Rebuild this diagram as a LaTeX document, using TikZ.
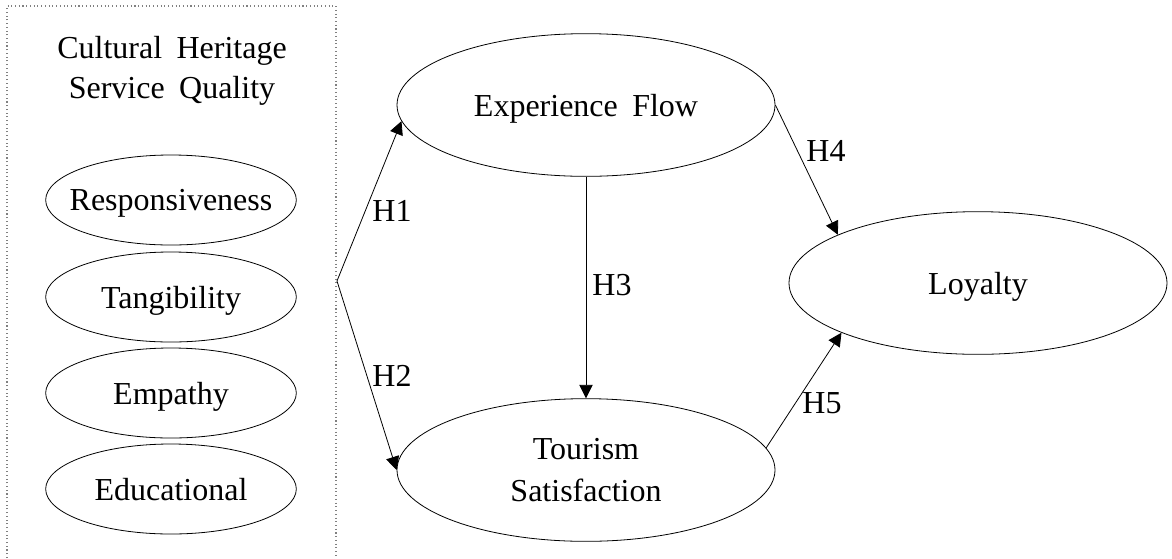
\documentclass[tikz,border=0pt]{standalone}
\usepackage{fontspec}
\setmainfont{Liberation Serif}[WordSpace=1.8]
\usetikzlibrary{arrows.meta,shapes.geometric}
\begin{document}
\begin{tikzpicture}[
x=0.75pt, y=-0.75pt,
every node/.style={font=\fontsize{24}{30}\selectfont},
factor/.style={ellipse, draw, line width=0.6pt, inner ysep=0pt, inner xsep=-30pt, text depth=0pt, minimum width=188pt, minimum height=67.5pt},
construct/.style={ellipse, draw, line width=0.6pt, inner sep=0pt, text depth=0pt, minimum width=283.5pt, minimum height=107pt},
path/.style={line width=0.6pt, -{Triangle[length=10pt, width=10pt]}},
]
  \useasboundingbox (0,0) rectangle (1172,558);
  \draw[gray, dotted, line width=0.8pt] (7,558) -- (7,6) -- (336,6) -- (336,558);
  \node[align=center] (sq) at (172,71) {Cultural Heritage\\Service Quality};
  \node[factor] (resp) at (171,200) {Responsiveness};
  \node[factor] (tang) at (171,297) {Tangibility};
  \node[factor] (emp) at (171,393) {Empathy};
  \node[factor] (edu) at (171,489) {Educational};
  \coordinate (hub) at (337,281);

  \node[construct] (ef) at (586,105) {Experience Flow};
  \node[construct, align=center, font=\fontsize{24}{32}\selectfont] (ts) at (586,470) {Tourism\\Satisfaction};
  \node[construct] (ly) at (978,283) {Loyalty};

  \draw[path] (hub) -- (ef.185);
  \draw[path] (hub) -- (ts.west);
  \draw[path] (ef.south) -- (ts.north);
  \draw[path] (ef.east) -- (ly.161);
  \draw[path] (ts.7) -- (ly.200);

  \node (h1) at (392,211) {H1};
  \node (h2) at (392,376) {H2};
  \node (h3) at (612,285) {H3};
  \node (h4) at (826,151) {H4};
  \node (h5) at (822,403) {H5};
\end{tikzpicture}
\end{document}
